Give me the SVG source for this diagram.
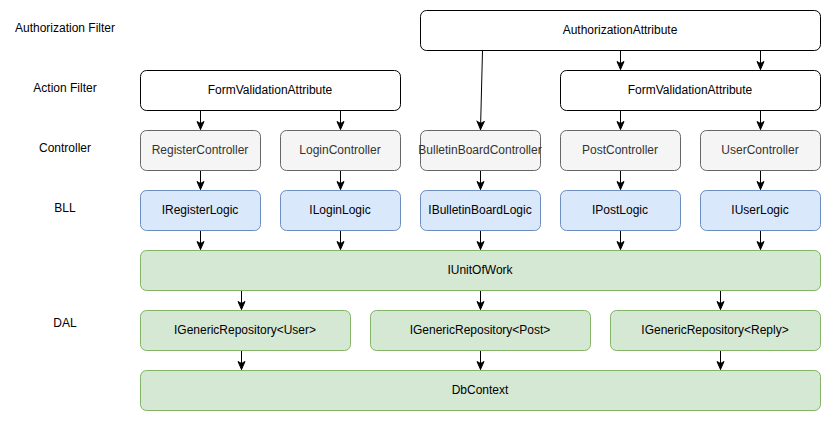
<svg xmlns="http://www.w3.org/2000/svg" width="831" height="421" viewBox="0 0 831 421">
<defs>
<marker id="arr" markerWidth="10" markerHeight="10" viewBox="0 0 10 10" refX="9" refY="5" orient="auto" markerUnits="userSpaceOnUse">
<path d="M1,1.5 L9,5 L1,8.5 L3,5 Z" fill="#000" stroke="#000" stroke-width="1"/>
</marker>
</defs>
<style>
text{font-family:"Liberation Sans",Arial,sans-serif;font-size:12px;text-anchor:middle;dominant-baseline:central}
.w{fill:#fff;stroke:#000}
.g{fill:#f5f5f5;stroke:#666}
.b{fill:#dae8fc;stroke:#6c8ebf}
.gr{fill:#d5e8d4;stroke:#82b366}
.gt{fill:#333}
.t{fill:#000}
.lbl{fill:#000}
.c{fill:none;stroke:#000;stroke-width:1;marker-end:url(#arr)}
</style>
<rect width="831" height="421" fill="#fff"/>
<g id="labels">
<text class="lbl" x="65" y="28">Authorization Filter</text>
<text class="lbl" x="65" y="88">Action Filter</text>
<text class="lbl" x="65" y="148">Controller</text>
<text class="lbl" x="65" y="208">BLL</text>
<text class="lbl" x="65" y="323">DAL</text>
</g>
<g id="connectors">
<path class="c" d="M482.5,50.5 L480.5,129.5"/>
<path class="c" d="M620.5,50.5 L620.5,69.5"/>
<path class="c" d="M760.5,50.5 L760.5,69.5"/>
<path class="c" d="M200.5,110.5 L200.5,129.5"/>
<path class="c" d="M340.5,110.5 L340.5,129.5"/>
<path class="c" d="M620.5,110.5 L620.5,129.5"/>
<path class="c" d="M760.5,110.5 L760.5,129.5"/>
<path class="c" d="M200.5,170.5 L200.5,189.5"/>
<path class="c" d="M340.5,170.5 L340.5,189.5"/>
<path class="c" d="M480.5,170.5 L480.5,189.5"/>
<path class="c" d="M620.5,170.5 L620.5,189.5"/>
<path class="c" d="M760.5,170.5 L760.5,189.5"/>
<path class="c" d="M200.5,230.5 L200.5,249.5"/>
<path class="c" d="M340.5,230.5 L340.5,249.5"/>
<path class="c" d="M480.5,230.5 L480.5,249.5"/>
<path class="c" d="M620.5,230.5 L620.5,249.5"/>
<path class="c" d="M760.5,230.5 L760.5,249.5"/>
<path class="c" d="M241.5,290.5 L241.5,309.5"/>
<path class="c" d="M480.5,290.5 L480.5,309.5"/>
<path class="c" d="M720.5,290.5 L720.5,309.5"/>
<path class="c" d="M241.5,350.5 L241.5,369.5"/>
<path class="c" d="M480.5,350.5 L480.5,369.5"/>
<path class="c" d="M720.5,350.5 L720.5,369.5"/>
</g>
<g id="authorizationAttribute"><rect class="w" x="420.5" y="10.5" width="400" height="40" rx="6"/><text class="t" x="620" y="30">AuthorizationAttribute</text></g>
<g id="formValidationLeft"><rect class="w" x="140.5" y="70.5" width="260" height="40" rx="6"/><text class="t" x="270" y="90">FormValidationAttribute</text></g>
<g id="formValidationRight"><rect class="w" x="560.5" y="70.5" width="260" height="40" rx="6"/><text class="t" x="690" y="90">FormValidationAttribute</text></g>
<g id="registerController"><rect class="g" x="140.5" y="130.5" width="120" height="40" rx="6"/><text class="gt" x="200" y="150">RegisterController</text></g>
<g id="loginController"><rect class="g" x="280.5" y="130.5" width="120" height="40" rx="6"/><text class="gt" x="340" y="150">LoginController</text></g>
<g id="bulletinBoardController"><rect class="g" x="420.5" y="130.5" width="120" height="40" rx="6"/><text class="gt" x="480" y="150">BulletinBoardController</text></g>
<g id="postController"><rect class="g" x="560.5" y="130.5" width="120" height="40" rx="6"/><text class="gt" x="620" y="150">PostController</text></g>
<g id="userController"><rect class="g" x="700.5" y="130.5" width="120" height="40" rx="6"/><text class="gt" x="760" y="150">UserController</text></g>
<g id="iRegisterLogic"><rect class="b" x="140.5" y="190.5" width="120" height="40" rx="6"/><text class="t" x="200" y="210">IRegisterLogic</text></g>
<g id="iLoginLogic"><rect class="b" x="280.5" y="190.5" width="120" height="40" rx="6"/><text class="t" x="340" y="210">ILoginLogic</text></g>
<g id="iBulletinBoardLogic"><rect class="b" x="420.5" y="190.5" width="120" height="40" rx="6"/><text class="t" x="480" y="210">IBulletinBoardLogic</text></g>
<g id="iPostLogic"><rect class="b" x="560.5" y="190.5" width="120" height="40" rx="6"/><text class="t" x="620" y="210">IPostLogic</text></g>
<g id="iUserLogic"><rect class="b" x="700.5" y="190.5" width="120" height="40" rx="6"/><text class="t" x="760" y="210">IUserLogic</text></g>
<g id="iUnitOfWork"><rect class="gr" x="140.5" y="250.5" width="680" height="40" rx="6"/><text class="t" x="480" y="270">IUnitOfWork</text></g>
<g id="repoUser"><rect class="gr" x="140.5" y="310.5" width="210" height="40" rx="6"/><text class="t" x="245" y="330">IGenericRepository&lt;User&gt;</text></g>
<g id="repoPost"><rect class="gr" x="370.5" y="310.5" width="220" height="40" rx="6"/><text class="t" x="480" y="330">IGenericRepository&lt;Post&gt;</text></g>
<g id="repoReply"><rect class="gr" x="610.5" y="310.5" width="210" height="40" rx="6"/><text class="t" x="715" y="330">IGenericRepository&lt;Reply&gt;</text></g>
<g id="dbContext"><rect class="gr" x="140.5" y="370.5" width="680" height="40" rx="6"/><text class="t" x="480" y="390">DbContext</text></g>
</svg>
